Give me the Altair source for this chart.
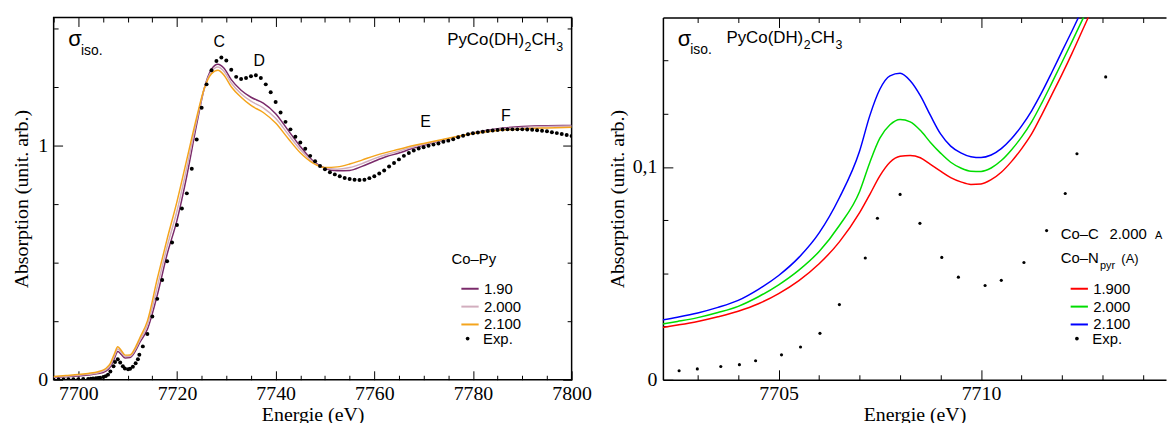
import altair as alt
import pandas as pd

# ---------------- data ----------------
# Left panel: calculated spectra (Co-Py distance) on an energy grid
E_L = [7695, 7697.5, 7700, 7702, 7704, 7705.5, 7706.5, 7707.3, 7708, 7708.7, 7709.5, 7710.5,
       7711.5, 7712.5, 7714, 7716, 7718, 7720, 7722, 7724, 7725.5, 7727, 7728.3, 7729.5, 7731,
       7733, 7735, 7737.5, 7740, 7742.5, 7745, 7747.5, 7750, 7752.5, 7755, 7757.5, 7760, 7762.5,
       7765, 7767.5, 7770, 7775, 7780, 7785, 7790, 7795, 7800]
PY_190 = [0.010, 0.013, 0.016, 0.020, 0.026, 0.036, 0.055, 0.090, 0.120, 0.108, 0.093, 0.095,
          0.120, 0.160, 0.215, 0.360, 0.535, 0.680, 0.870, 1.090, 1.240, 1.325, 1.346, 1.330, 1.280,
          1.235, 1.205, 1.180, 1.135, 1.065, 0.995, 0.935, 0.902, 0.891, 0.893, 0.910, 0.932, 0.952,
          0.967, 0.985, 1.000, 1.027, 1.053, 1.071, 1.080, 1.084, 1.085]
PY_200 = [0.012, 0.015, 0.019, 0.023, 0.030, 0.041, 0.062, 0.100, 0.131, 0.117, 0.099, 0.100,
          0.127, 0.170, 0.232, 0.395, 0.568, 0.720, 0.905, 1.105, 1.240, 1.315, 1.334, 1.316, 1.266,
          1.220, 1.188, 1.160, 1.115, 1.048, 0.982, 0.930, 0.903, 0.898, 0.905, 0.922, 0.943, 0.961,
          0.975, 0.991, 1.004, 1.028, 1.052, 1.068, 1.076, 1.080, 1.082]
PY_210 = [0.014, 0.018, 0.022, 0.027, 0.034, 0.047, 0.070, 0.110, 0.141, 0.125, 0.105, 0.106,
          0.135, 0.180, 0.250, 0.430, 0.600, 0.760, 0.940, 1.120, 1.240, 1.305, 1.320, 1.300, 1.250,
          1.205, 1.170, 1.140, 1.095, 1.030, 0.968, 0.925, 0.905, 0.908, 0.920, 0.937, 0.955, 0.970,
          0.983, 0.997, 1.008, 1.030, 1.050, 1.063, 1.070, 1.074, 1.077]
PY_NAMES = ["1.90", "2.000", "2.100"]
PY_COLORS = ["#7a2a6a", "#d2aebe", "#f4a41c"]

# Experimental spectrum (shared by both panels)
EXP_E = [7695, 7696, 7697, 7698, 7699, 7700, 7701, 7702, 7702.54, 7702.99, 7703.57, 7704.03,
         7704.43, 7705.07, 7705.54, 7706.02, 7706.50, 7707.14, 7707.44, 7708.0, 7708.49, 7709.03,
         7709.44, 7710.10, 7710.50, 7711.06, 7711.62, 7712.08, 7712.37, 7713.08,
         7714, 7715, 7716, 7717, 7718, 7719, 7720, 7721, 7722, 7723, 7724, 7725, 7726, 7727,
         7728, 7729, 7730, 7731, 7732, 7733, 7734, 7735, 7736, 7737, 7738, 7739, 7740, 7741,
         7742, 7743, 7744, 7745, 7746, 7747, 7748, 7749, 7750, 7751, 7752, 7753, 7754, 7755,
         7756, 7757, 7758, 7759, 7760, 7761, 7762, 7763, 7764, 7765, 7766, 7767, 7768, 7769,
         7770, 7771, 7772, 7773, 7774, 7775, 7776, 7777, 7778, 7779, 7780, 7781, 7782, 7783,
         7784, 7785, 7786, 7787, 7788, 7789, 7790, 7791, 7792, 7793, 7794, 7795, 7796, 7797,
         7798, 7799, 7800]
EXP_A = [0.000, 0.001, 0.001, 0.002, 0.002, 0.002, 0.003, 0.0035, 0.0042, 0.0051, 0.0062, 0.0071,
         0.0089, 0.0117, 0.0154, 0.0218, 0.0353, 0.0572, 0.0759, 0.0871, 0.0735, 0.0575,
         0.0482, 0.0443, 0.0467, 0.0551, 0.0701, 0.0875, 0.1062, 0.1423,
         0.195, 0.270, 0.345, 0.425, 0.505, 0.585, 0.660, 0.730, 0.795, 0.900, 1.025, 1.160, 1.260, 1.320,
         1.360, 1.375, 1.362, 1.322, 1.292, 1.283, 1.287, 1.295, 1.299, 1.287, 1.260, 1.226, 1.185, 1.140,
         1.100, 1.068, 1.037, 1.012, 0.985, 0.955, 0.932, 0.912, 0.898, 0.885, 0.876, 0.868, 0.861, 0.856,
         0.853, 0.852, 0.853, 0.860, 0.868, 0.880, 0.893, 0.910, 0.925, 0.940, 0.955, 0.967, 0.978, 0.986,
         0.992, 0.998, 1.003, 1.008, 1.015, 1.020, 1.026, 1.034, 1.041, 1.047, 1.051, 1.055, 1.058, 1.061,
         1.063, 1.065, 1.067, 1.068, 1.068, 1.068, 1.068, 1.067, 1.066, 1.064, 1.062, 1.060, 1.056, 1.052,
         1.048, 1.044, 1.040]

# Right panel: pre-edge zoom, Co-N(pyr) distance
E_R = [7702.1, 7702.5, 7703, 7703.5, 7704, 7704.5, 7705, 7705.5, 7706, 7706.5, 7707, 7707.25,
       7707.5, 7707.75, 7708, 7708.25, 7708.5, 7708.75, 7709, 7709.25, 7709.5, 7709.75, 7710,
       7710.25, 7710.5, 7710.75, 7711, 7711.25, 7711.5, 7711.75, 7712, 7712.25, 7712.5, 7712.75, 7713]
NP_190 = [0.0245, 0.0257, 0.0274, 0.0296, 0.0322, 0.0357, 0.0405, 0.0466, 0.0545, 0.0648, 0.0785, 0.0870,
          0.0958, 0.1022, 0.1050, 0.1054, 0.1043, 0.1012, 0.0980, 0.0950, 0.0930, 0.0918, 0.0920,
          0.0940, 0.0975, 0.1025, 0.1085, 0.1155, 0.1245, 0.1340, 0.1435, 0.1535, 0.1640, 0.1745, 0.1850]
NP_200 = [0.0261, 0.0274, 0.0292, 0.0316, 0.0345, 0.0390, 0.0446, 0.0515, 0.0603, 0.0725, 0.0885, 0.1020,
          0.1135, 0.1198, 0.1223, 0.1212, 0.1172, 0.1115, 0.1065, 0.1022, 0.0995, 0.0980, 0.0979,
          0.0995, 0.1030, 0.1080, 0.1140, 0.1212, 0.1300, 0.1395, 0.1492, 0.1590, 0.1690, 0.1790, 0.1890]
NP_210 = [0.0280, 0.0294, 0.0314, 0.0340, 0.0373, 0.0425, 0.0490, 0.0575, 0.0690, 0.0855, 0.1075, 0.1240,
          0.1365, 0.1428, 0.1440, 0.1405, 0.1335, 0.1242, 0.1155, 0.1098, 0.1066, 0.1048, 0.1044,
          0.1056, 0.1086, 0.1132, 0.1192, 0.1264, 0.1350, 0.1445, 0.1543, 0.1640, 0.1740, 0.1840, 0.1940]
NP_NAMES = ["1.900", "2.000", "2.100"]
NP_COLORS = ["#ff0000", "#00dd00", "#0000ff"]

# ---------------- helpers ----------------
SERIF = "Liberation Serif"
SANS = "Liberation Sans"


def long_df(E, cols, names):
    rows = []
    for name, vals in zip(names, cols):
        for e, a in zip(E, vals):
            rows.append({"E": e, "A": a, "s": name})
    return pd.DataFrame(rows)


left_lines = long_df(E_L, [PY_190, PY_200, PY_210], PY_NAMES)
right_lines = long_df(E_R, [NP_190, NP_200, NP_210], NP_NAMES)
exp_df = pd.DataFrame({"E": EXP_E, "A": EXP_A, "lab": ["Exp."] * len(EXP_E)})


def axis(orient, values=None, size=0, labels=False, title=None, domain=False, **kw):
    d = dict(orient=orient, grid=False, domain=domain, labels=labels, ticks=size > 0, title=title,
             minExtent=0)
    if values is not None:
        d["values"] = values
    if size > 0:
        d.update(tickSize=size, offset=-size, tickColor="black", tickWidth=1)
    else:
        d.update(offset=0)
    if domain:
        d.update(domainColor="black", domainWidth=1.5)
    if labels:
        d.update(labelFont=SERIF, labelFontSize=20, labelColor="black", labelFlush=False,
                 labelOverlap=False)
    if title:
        d.update(titleFont=SERIF, titleFontSize=20, titleFontWeight="normal", titleColor="black",
                 titleAlign="center")
    d.update(kw)
    return alt.Axis(**d)


def txt(s, x, y, size, align="left"):
    return alt.Chart(pd.DataFrame({"t": [s]})).mark_text(
        align=align, baseline="alphabetic", font=SANS, fontSize=size, color="black"
    ).encode(text="t:N", x=alt.value(x), y=alt.value(y))


def line_legend(x, y):
    return alt.Legend(orient="none", legendX=x, legendY=y, title=None, padding=0,
                      labelFont=SANS, labelFontSize=15, labelColor="black",
                      symbolType="stroke", symbolStrokeWidth=2, symbolSize=303,
                      rowPadding=0, labelOffset=4)


def dot_legend(x, y):
    return alt.Legend(orient="none", legendX=x, legendY=y, title=None, padding=0,
                      labelFont=SANS, labelFontSize=15, labelColor="black",
                      symbolSize=14, symbolFillColor="black", symbolStrokeWidth=0,
                      labelOffset=8)


# ---------------- left panel ----------------
LW, LH = 522, 365
xs_l = alt.Scale(domain=[7695, 7800], nice=False, zero=False)
ys_l = alt.Scale(domain=[0, 1.545], nice=False, zero=False)
X_MAJ_L = [7700, 7720, 7740, 7760, 7780, 7800]
X_MIN_L = [7695, 7705, 7710, 7715, 7725, 7730, 7735, 7745, 7750, 7755, 7765, 7770, 7775, 7785, 7790, 7795]
Y_MAJ_L = [0, 1]
Y_MIN_L = [0.25, 0.5, 0.75, 1.25, 1.5]

l_lines = alt.Chart(left_lines).mark_line(clip=True, strokeWidth=1.5, interpolate="monotone").encode(
    x=alt.X("E:Q", scale=xs_l, axis=axis("bottom", X_MAJ_L, 9, labels=True, title="Energie (eV)",
                                         labelPadding=4, format="d", titleX=LW / 2, titleY=50,
                                         titleBaseline="alphabetic")),
    y=alt.Y("A:Q", scale=ys_l, axis=axis("left", Y_MAJ_L, 9, labels=True, title="Absorption (unit. arb.)",
                                         labelPadding=6, format="d", titleX=-41, titleY=LH / 2,
                                         titleBaseline="middle", titleAngle=270)),
    color=alt.Color("s:N", scale=alt.Scale(domain=PY_NAMES, range=PY_COLORS),
                    legend=line_legend(409.6, 263.3)),
)
l_exp = alt.Chart(exp_df).mark_point(clip=True, filled=True, size=16, opacity=1, color="black").encode(
    x=alt.X("E:Q", scale=xs_l, axis=axis("bottom", X_MIN_L, 4.5)),
    y=alt.Y("A:Q", scale=ys_l, axis=axis("left", Y_MIN_L, 4.5)),
    shape=alt.Shape("lab:N", scale=alt.Scale(domain=["Exp."], range=["circle"]),
                    legend=dot_legend(409.7, 316)),
)
l_top = alt.Chart(exp_df).mark_point(clip=True, opacity=0).encode(
    x=alt.X("E:Q", scale=xs_l, axis=axis("top", X_MAJ_L, 9)),
    y=alt.Y("A:Q", scale=ys_l, axis=axis("right", Y_MAJ_L, 9)),
)
l_top2 = alt.Chart(exp_df).mark_point(clip=True, opacity=0).encode(
    x=alt.X("E:Q", scale=xs_l, axis=axis("top", X_MIN_L, 4.5)),
    y=alt.Y("A:Q", scale=ys_l, axis=axis("right", Y_MIN_L, 4.5)),
)
left_txt = [
    txt("σ", 14.7, 28.6, 22), txt("iso.", 27.5, 37.6, 14),
    txt("PyCo(DH)", 396.6, 28, 17), txt("2", 474.5, 33.6, 12.5), txt("CH", 481.5, 28, 17),
    txt("3", 506.5, 33.6, 12.5),
    txt("C", 167, 29.7, 16, "center"), txt("D", 207.3, 49.3, 16, "center"),
    txt("E", 374.8, 110.3, 16, "center"), txt("F", 455.8, 104.3, 16, "center"),
    txt("Co–Py", 401, 248.7, 15),
]
left = alt.layer(l_lines, l_exp, l_top, l_top2, *left_txt).resolve_axis(
    x="independent", y="independent"
).properties(width=LW, height=LH, view=alt.ViewBackground(stroke="black", strokeWidth=1.5))

# ---------------- right panel ----------------
RW, RH = 507, 365
xs_r = alt.Scale(domain=[7702.14, 7714.57], nice=False, zero=False)
ys_r = alt.Scale(domain=[0, 0.1702], nice=False, zero=False)
X_MAJ_R = [7705, 7710]
X_MIN_R = [7703, 7704, 7706, 7707, 7708, 7709, 7711, 7712, 7713, 7714]
Y_MAJ_R = [0, 0.1]
Y_MIN_R = [0.025, 0.05, 0.075, 0.125, 0.15]

r_lines = alt.Chart(right_lines).mark_line(clip=True, strokeWidth=1.5, interpolate="monotone").encode(
    x=alt.X("E:Q", scale=xs_r, axis=axis("bottom", X_MAJ_R, 10, labels=True, title="Energie (eV)",
                                         labelPadding=4, format="d", titleX=RW / 2, titleY=51,
                                         titleBaseline="alphabetic")),
    y=alt.Y("A:Q", scale=ys_r, axis=axis("left", Y_MAJ_R, 10, labels=True, title="Absorption (unit. arb.)",
                                         labelPadding=6, titleX=-56, titleY=RH / 2,
                                         titleBaseline="middle", titleAngle=270,
                                         labelExpr="datum.value == 0 ? '0' : replace(format(datum.value, '.1f'), '.', ',')")),
    color=alt.Color("s:N", scale=alt.Scale(domain=NP_NAMES, range=NP_COLORS),
                    legend=line_legend(409.6, 263.3)),
)
r_exp = alt.Chart(exp_df).mark_point(clip=True, filled=True, size=10, opacity=1, color="black").encode(
    x=alt.X("E:Q", scale=xs_r, axis=axis("bottom", X_MIN_R, 5)),
    y=alt.Y("A:Q", scale=ys_r, axis=axis("left", Y_MIN_R, 5)),
    shape=alt.Shape("lab:N", scale=alt.Scale(domain=["Exp."], range=["circle"]),
                    legend=dot_legend(409.7, 316)),
)
r_top = alt.Chart(exp_df).mark_point(clip=True, opacity=0).encode(
    x=alt.X("E:Q", scale=xs_r, axis=axis("top", X_MAJ_R, 10)),
    y=alt.Y("A:Q", scale=ys_r, axis=None),
)
r_top2 = alt.Chart(exp_df).mark_point(clip=True, opacity=0).encode(
    x=alt.X("E:Q", scale=xs_r, axis=axis("top", X_MIN_R, 5)),
    y=alt.Y("A:Q", scale=ys_r, axis=None),
)
r_frame = alt.Chart(exp_df).mark_point(clip=True, opacity=0).encode(
    x=alt.X("E:Q", scale=xs_r, axis=axis("bottom", domain=True)),
    y=alt.Y("A:Q", scale=ys_r, axis=axis("left", domain=True)),
)
r_frame2 = alt.Chart(exp_df).mark_point(clip=True, opacity=0).encode(
    x=alt.X("E:Q", scale=xs_r, axis=axis("top", domain=True)),
    y=alt.Y("A:Q", scale=ys_r, axis=None),
)
right_txt = [
    txt("σ", 15, 28.6, 22), txt("iso.", 27.5, 37, 14),
    txt("PyCo(DH)", 64, 25.3, 17), txt("2", 141.9, 32, 12.5), txt("CH", 148.9, 25.3, 17),
    txt("3", 173.9, 32, 12.5),
    txt("Co–C", 401, 223.3, 15), txt("2.000", 450, 223.3, 15), txt("A", 496, 223.3, 11),
    txt("Co–N", 401, 247.3, 15), txt("pyr", 440.5, 253.8, 11), txt("(A)", 462, 247.3, 13),
]
right = alt.layer(r_lines, r_exp, r_top, r_top2, r_frame, r_frame2, *right_txt).resolve_axis(
    x="independent", y="independent"
).properties(width=RW, height=RH, view=alt.ViewBackground(stroke="transparent"))

chart = alt.hconcat(left, right, spacing=14).resolve_scale(
    color="independent", shape="independent"
).resolve_legend(
    color="independent", shape="independent"
).properties(
    padding={"left": 3, "top": 6, "right": 0, "bottom": 0}
).configure(background="white")

chart.save("out.html", embed_options={"renderer": "svg", "actions": False})
